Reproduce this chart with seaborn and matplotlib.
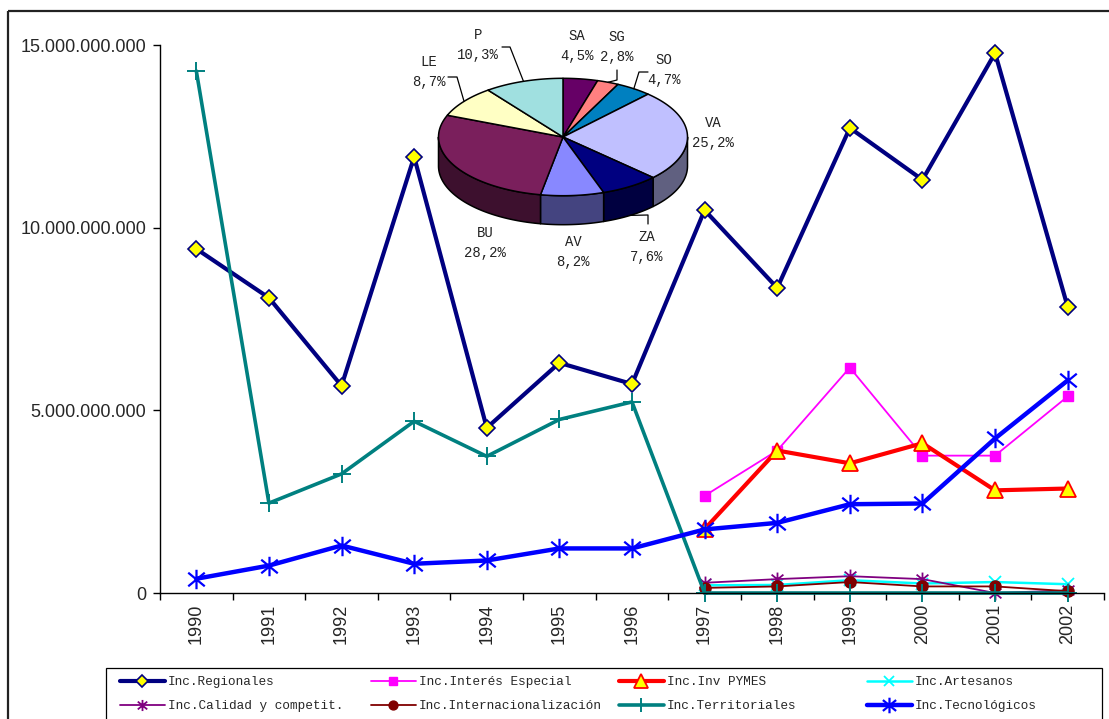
import numpy as np
import matplotlib
matplotlib.use("Agg")
import matplotlib.pyplot as plt
from matplotlib.path import Path
from matplotlib.lines import Line2D
from matplotlib.patches import Polygon, Rectangle
from matplotlib.ticker import FuncFormatter, FixedLocator
import seaborn as sns

# ---------------- data (miles de millones de pesetas) ----------------
years = [1990, 1991, 1992, 1993, 1994, 1995, 1996, 1997, 1998, 1999, 2000, 2001, 2002]
years_late = [1997, 1998, 1999, 2000, 2001, 2002]

regionales = [9.42, 8.08, 5.67, 11.94, 4.52, 6.30, 5.72, 10.48, 8.35, 12.73, 11.31, 14.78, 7.83]
interes_especial = [2.66, 3.90, 6.17, 3.76, 3.76, 5.38]
inv_pymes = [1.75, 3.90, 3.55, 4.10, 2.81, 2.86]
artesanos = [0.21, 0.22, 0.35, 0.26, 0.30, 0.24]
calidad = [0.28, 0.38, 0.46, 0.38, 0.0, 0.07]
internacionalizacion = [0.14, 0.18, 0.30, 0.18, 0.18, 0.05]
territoriales = [14.29, 2.46, 3.26, 4.70, 3.74, 4.75, 5.23, 0.0, 0.0, 0.0, 0.0, 0.0, 0.0]
tecnologicos = [0.39, 0.75, 1.30, 0.80, 0.89, 1.22, 1.22, 1.74, 1.92, 2.43, 2.45, 4.23, 5.82]
UNIT = 1e9

# provincial shares (%) for the pie, clockwise from twelve o'clock
pie_labels = ["SA", "SG", "SO", "VA", "ZA", "AV", "BU", "LE", "P"]
pie_values = [4.5, 2.8, 4.7, 25.2, 7.6, 8.2, 28.2, 8.7, 10.3]

# ---------------- style ----------------
sns.set_style("ticks")
plt.rcParams["font.family"] = ["Liberation Sans", "DejaVu Sans"]
MONO = ["Liberation Mono", "DejaVu Sans Mono"]

W, H = 1109, 719
fig = plt.figure(figsize=(W / 100, H / 100), dpi=100)
fig.patch.set_facecolor("white")
ax = fig.add_axes([160 / W, 1 - 593 / H, 944 / W, 548 / H])
ax.set_facecolor("none")

# asterisk marker: vertical bar plus an X
ast_path = Path(
    [(0, -1), (0, 1), (-0.85, -0.7), (0.85, 0.7), (-0.85, 0.7), (0.85, -0.7)],
    [Path.MOVETO, Path.LINETO, Path.MOVETO, Path.LINETO, Path.MOVETO, Path.LINETO],
)

series = [
    ("Inc.Regionales", years, regionales,
     dict(color="#000080", linewidth=3.0, marker="D", markersize=8,
          markerfacecolor="#FFFF00", markeredgecolor="#000080", markeredgewidth=1.2)),
    ("Inc.Interés Especial", years_late, interes_especial,
     dict(color="#FF00FF", linewidth=1.3, marker="s", markersize=7.5,
          markerfacecolor="#FF00FF", markeredgecolor="#FF00FF", markeredgewidth=1)),
    ("Inc.Inv PYMES", years_late, inv_pymes,
     dict(color="#FF0000", linewidth=3.0, marker="^", markersize=12,
          markerfacecolor="#FFFF00", markeredgecolor="#FF0000", markeredgewidth=1.3)),
    ("Inc.Artesanos", years_late, artesanos,
     dict(color="#00FFFF", linewidth=1.8, marker="x", markersize=9,
          markerfacecolor="#00FFFF", markeredgecolor="#00FFFF", markeredgewidth=1.3)),
    ("Inc.Calidad y competit.", years_late, calidad,
     dict(color="#800080", linewidth=1.3, marker=ast_path, markersize=10,
          markerfacecolor="#800080", markeredgecolor="#800080", markeredgewidth=1.3)),
    ("Inc.Internacionalización", years_late, internacionalizacion,
     dict(color="#800000", linewidth=1.3, marker="o", markersize=8,
          markerfacecolor="#800000", markeredgecolor="#800000", markeredgewidth=1)),
    ("Inc.Territoriales", years, territoriales,
     dict(color="#008080", linewidth=2.6, marker="+", markersize=13,
          markerfacecolor="#008080", markeredgecolor="#008080", markeredgewidth=1.4)),
    ("Inc.Tecnológicos", years, tecnologicos,
     dict(color="#0000FF", linewidth=3.2, marker=ast_path, markersize=14,
          markerfacecolor="#0000FF", markeredgecolor="#0000FF", markeredgewidth=1.6)),
]

handles = []
for name, xs, ys, kw in series:
    sns.lineplot(x=xs, y=np.array(ys) * UNIT, ax=ax, errorbar=None, sort=False,
                 legend=False, clip_on=False, **kw)
    hkw = dict(kw)
    hkw["markersize"] = kw["markersize"] * 0.8
    handles.append(Line2D([], [], **hkw))

# ---------------- axes ----------------
ax.set_xlim(years[0] - 0.5, years[-1] + 0.5)
ax.set_ylim(0, 15 * UNIT)
ax.set_xlabel("")
ax.set_ylabel("")
ax.xaxis.set_major_locator(FixedLocator(years))
ax.set_xticklabels([str(y) for y in years], rotation=90, fontsize=13)
ax.xaxis.set_minor_locator(FixedLocator(np.arange(years[0] - 0.5, years[-1] + 1, 1.0)))
ax.tick_params(axis="x", which="major", length=0, pad=8)
ax.tick_params(axis="x", which="minor", length=5, width=1, color="black", direction="out")
ax.yaxis.set_major_locator(FixedLocator([0, 5 * UNIT, 10 * UNIT, 15 * UNIT]))
ax.yaxis.set_major_formatter(FuncFormatter(lambda v, p: f"{int(round(v)):,}".replace(",", ".")))
ax.tick_params(axis="y", length=5, width=1, color="black", direction="out", pad=5, labelsize=13)
for s in ("top", "right"):
    ax.spines[s].set_visible(False)
for s in ("left", "bottom"):
    ax.spines[s].set_color("black")
    ax.spines[s].set_linewidth(1)

# ---------------- overlay in pixel units: frame, pie, legend box ----------------
ov = fig.add_axes([0, 0, 1, 1], zorder=3)
ov.set_xlim(0, W)
ov.set_ylim(H, 0)
ov.axis("off")
ov.patch.set_alpha(0)

ov.plot([8, W + 5], [11, 11], color="#222222", lw=1.6, solid_capstyle="butt")
ov.plot([8, 8], [11, H + 5], color="#222222", lw=1.6, solid_capstyle="butt")
ov.add_patch(Rectangle((106, 668), 996, 70, facecolor="white", edgecolor="black", lw=0.9))

# 3-D pie
top_colors = ["#660066", "#FF8080", "#0080C0", "#C0C0FF", "#000080",
              "#8888FF", "#7A1F5C", "#FFFFC4", "#A0E0E0"]
cx, cy, rx, ry, depth = 563, 137, 124.5, 58.7, 29

def darker(c, f=0.5):
    r, g, b = matplotlib.colors.to_rgb(c)
    return (r * f, g * f, b * f)

vals = np.array(pie_values)
bounds = 90 - np.concatenate([[0], np.cumsum(vals / vals.sum())]) * 360

def rim(t):
    t = np.radians(t)
    return cx + rx * np.cos(t), cy - ry * np.sin(t)

for i in range(len(vals)):
    a1, a2 = bounds[i], bounds[i + 1]
    lo, hi = max(a2, -180), min(a1, 0)
    if hi > lo:
        t = np.linspace(lo, hi, 60)
        x, y = rim(t)
        pts = np.column_stack([np.concatenate([x, x[::-1]]),
                               np.concatenate([y, y[::-1] + depth])])
        ov.add_patch(Polygon(pts, closed=True, facecolor=darker(top_colors[i]),
                             edgecolor="black", lw=1.1, joinstyle="round"))
for i in range(len(vals)):
    t = np.linspace(bounds[i], bounds[i + 1], 80)
    x, y = rim(t)
    pts = np.vstack([[cx, cy], np.column_stack([x, y])])
    ov.add_patch(Polygon(pts, closed=True, facecolor=top_colors[i],
                         edgecolor="black", lw=1.1, joinstyle="round"))

label_pos = {"SA": (577, 36), "SG": (617, 37), "SO": (664, 60), "VA": (713, 123),
             "ZA": (647, 237), "AV": (573, 242), "BU": (485, 233), "LE": (429, 62),
             "P": (478, 35)}
leaders = {"P": [(502, 47), (510, 47)], "LE": [(448, 77), (457, 77)],
           "SG": [(617, 70), (617, 80)], "SO": [(648, 72), (639, 72)],
           "ZA": [(648, 224), (648, 215)]}
for i, name in enumerate(pie_labels):
    lx, ly = label_pos[name]
    pct = f"{pie_values[i]:.1f}%".replace(".", ",")
    ov.text(lx, ly, name, ha="center", va="center", fontsize=10, family=MONO,
            color="#222222")
    ov.text(lx, ly + 20, pct, ha="center", va="center", fontsize=10, family=MONO,
            color="#222222")
    if name in leaders:
        mid = (bounds[i] + bounds[i + 1]) / 2
        ex, ey = rim(mid)
        if np.sin(np.radians(mid)) < 0:
            ey += depth
        pts = leaders[name] + [(ex, ey)]
        ov.plot([p[0] for p in pts], [p[1] for p in pts], color="black", lw=0.9)

# legend: four columns of two entries each
col_x = [120, 371, 619, 867]
for c in range(4):
    idx = [c, c + 4]
    leg = fig.legend([handles[k] for k in idx], [series[k][0] for k in idx],
                     loc="upper left", bbox_to_anchor=(col_x[c] / W, 1 - 676 / H),
                     frameon=False, handlelength=3.5, handletextpad=0.25,
                     borderpad=0, borderaxespad=0, labelspacing=0.95,
                     prop={"family": MONO, "size": 9.2})
    leg.set_zorder(6)

fig.savefig("out.png", dpi=100, facecolor="white")
